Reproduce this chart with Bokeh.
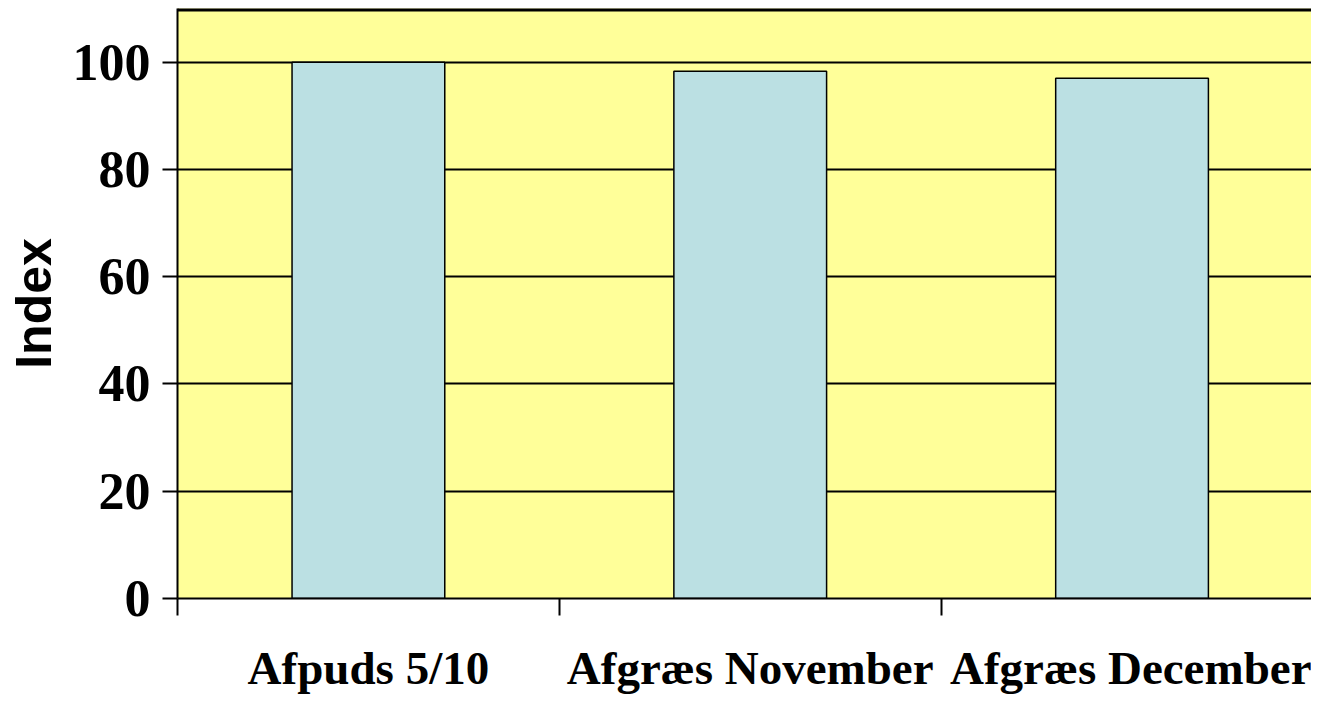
from bokeh.plotting import figure
from bokeh.models import FixedTicker, Range1d, Span, ColumnDataSource
from bokeh.embed import file_html
from bokeh.resources import INLINE

categories = ["Afpuds 5/10", "Afgræs November", "Afgræs December"]
values = [100, 98.3, 97.0]
y_ticks = [0, 20, 40, 60, 80, 100]

positions = [i + 0.5 for i in range(len(categories))]
src = ColumnDataSource(dict(x=positions, top=values))

p = figure(width=1311, height=697, output_backend="svg", toolbar_location=None,
           x_range=Range1d(0, 2.97), y_range=Range1d(0, 110),
           min_border_left=177, min_border_right=0, min_border_top=8, min_border_bottom=99)

p.background_fill_color = "#FFFF99"
p.border_fill_color = "white"
p.outline_line_color = None

p.vbar(x="x", top="top", width=0.4, bottom=0, source=src,
       fill_color="#BBE0E3", line_color="black", line_width=1.5)

p.add_layout(Span(location=110, dimension="width", line_color="black", line_width=6))

# grid
p.xgrid.grid_line_color = None
p.ygrid.ticker = FixedTicker(ticks=y_ticks)
p.ygrid.grid_line_color = "black"
p.ygrid.grid_line_width = 2

# y axis
p.yaxis.ticker = FixedTicker(ticks=y_ticks)
p.yaxis.axis_label = "Index"
p.yaxis.axis_label_text_font = "Liberation Sans"
p.yaxis.axis_label_text_font_style = "bold"
p.yaxis.axis_label_text_font_size = "50px"
p.yaxis.axis_label_text_color = "black"
p.yaxis.axis_label_standoff = 8
p.yaxis.major_label_text_font = "Liberation Serif"
p.yaxis.major_label_text_font_style = "bold"
p.yaxis.major_label_text_font_size = "52px"
p.yaxis.major_label_text_color = "black"
p.yaxis.major_label_standoff = 12
p.yaxis.major_tick_in = 0
p.yaxis.major_tick_out = 15
p.yaxis.major_tick_line_width = 2
p.yaxis.major_tick_line_color = "black"
p.yaxis.minor_tick_line_color = None
p.yaxis.axis_line_width = 2
p.yaxis.axis_line_color = "black"

# x axis
p.xaxis.ticker = FixedTicker(ticks=positions, minor_ticks=[0, 1, 2, 3])
p.xaxis.major_label_overrides = {pos: c for pos, c in zip(positions, categories)}
p.xaxis.major_label_text_font = "Liberation Serif"
p.xaxis.major_label_text_font_style = "bold"
p.xaxis.major_label_text_font_size = "47px"
p.xaxis.major_label_text_color = "black"
p.xaxis.major_label_standoff = 26
p.xaxis.major_tick_in = 0
p.xaxis.major_tick_out = 0
p.xaxis.minor_tick_in = 0
p.xaxis.minor_tick_out = 17
p.xaxis.minor_tick_line_width = 2
p.xaxis.minor_tick_line_color = "black"
p.xaxis.axis_line_width = 2
p.xaxis.axis_line_color = "black"

open("out.html", "w").write(file_html(p, INLINE))
